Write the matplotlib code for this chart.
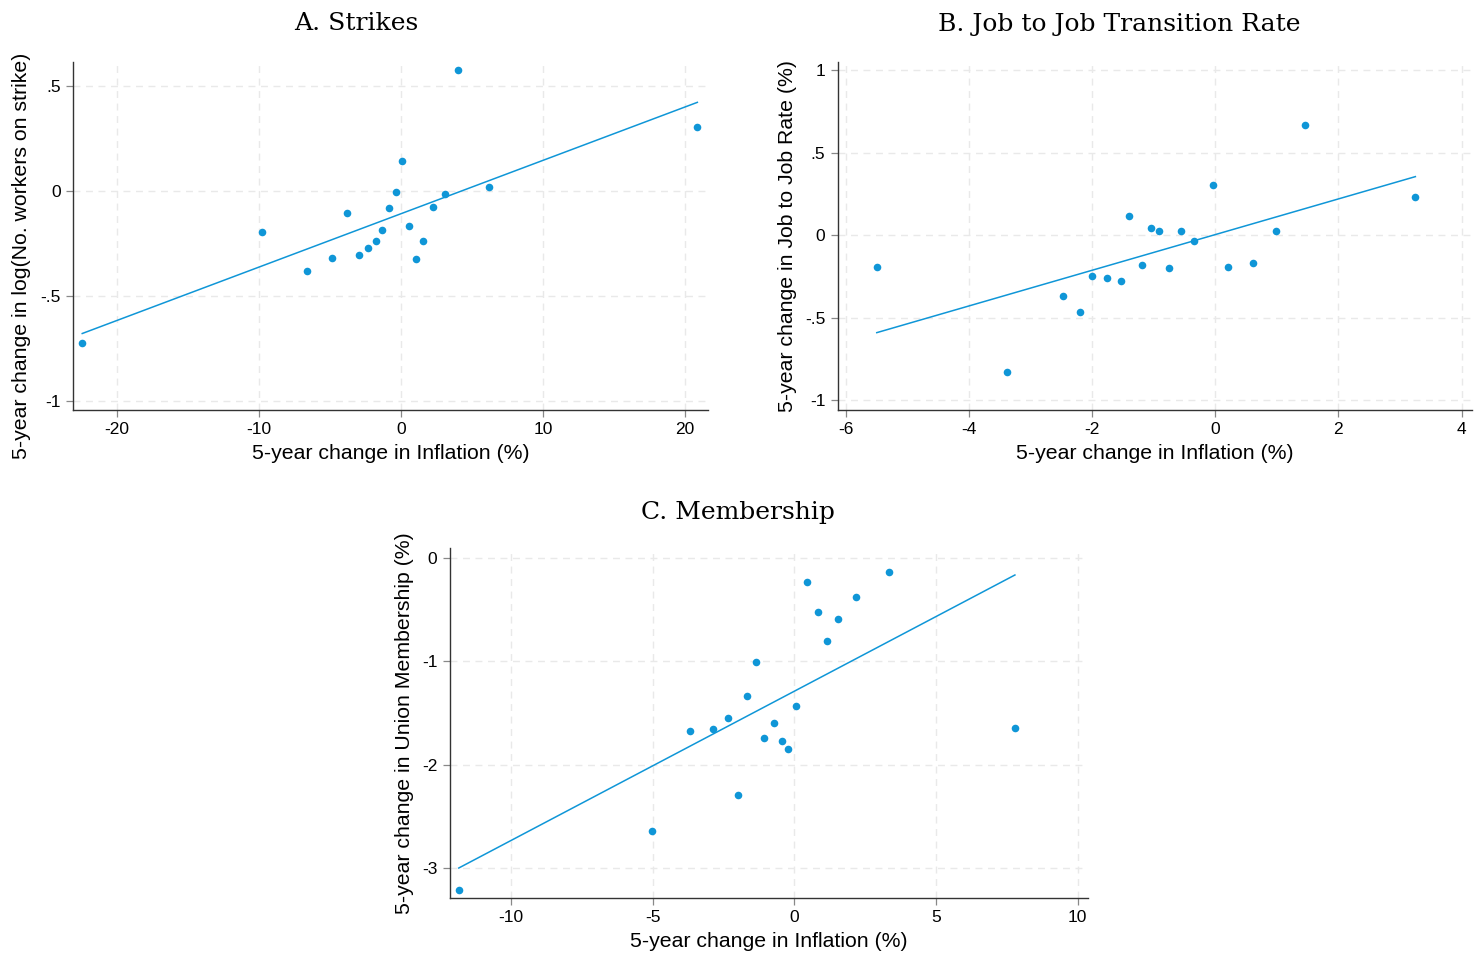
"""Three binned scatter panels: strikes, job-to-job moves and union membership vs inflation."""

import matplotlib

matplotlib.use("Agg")
import matplotlib.pyplot as plt
import numpy as np

BLUE = "#0f96d7"

# A. Strikes
strikes_x = [-22.43, -9.75, -6.58, -4.82, -3.79, -2.96, -2.30, -1.76, -1.32, -0.83,
             -0.37, 0.07, 0.56, 1.04, 1.57, 2.24, 3.12, 4.02, 6.21, 20.87]
strikes_y = [-0.724, -0.197, -0.384, -0.319, -0.106, -0.305, -0.275, -0.240, -0.186, -0.084,
             -0.008, 0.143, -0.168, -0.325, -0.240, -0.080, -0.018, 0.576, 0.018, 0.305]
strikes_fit_x = [-22.43, 20.87]
strikes_fit_y = [-0.68, 0.42]

# B. Job to job
j2j_x = [-5.50, -3.39, -2.48, -2.20, -2.00, -1.76, -1.54, -1.40, -1.19, -1.04,
         -0.92, -0.75, -0.56, -0.34, -0.04, 0.21, 0.62, 0.98, 1.46, 3.25]
j2j_y = [-0.191, -0.827, -0.371, -0.465, -0.245, -0.259, -0.280, 0.114, -0.179, 0.045,
         0.027, -0.199, 0.027, -0.038, 0.306, -0.191, -0.168, 0.023, 0.670, 0.233]
j2j_fit_x = [-5.50, 3.25]
j2j_fit_y = [-0.591, 0.355]

# C. Membership
union_x = [-11.84, -5.02, -3.69, -2.85, -2.33, -1.99, -1.67, -1.36, -1.06, -0.73,
           -0.44, -0.22, 0.06, 0.46, 0.83, 1.16, 1.55, 2.19, 3.34, 7.79]
union_y = [-3.21, -2.64, -1.68, -1.655, -1.55, -2.29, -1.34, -1.01, -1.745, -1.60,
           -1.77, -1.85, -1.43, -0.238, -0.529, -0.809, -0.596, -0.378, -0.141, -1.65]
union_fit_x = [-11.84, 7.79]
union_fit_y = [-3.00, -0.167]

xticks_a = [-20, -10, 0, 10, 20]
yticks_a = [-1, -0.5, 0, 0.5]
ylabels_a = ["-1", "-.5", "0", ".5"]
xticks_b = [-6, -4, -2, 0, 2, 4]
yticks_b = [-1, -0.5, 0, 0.5, 1]
ylabels_b = ["-1", "-.5", "0", ".5", "1"]
xticks_c = [-10, -5, 0, 5, 10]
yticks_c = [-3, -2, -1, 0]
ylabels_c = ["-3", "-2", "-1", "0"]

XLABEL = "5-year change in Inflation (%)"

plt.rcParams["font.family"] = ["Liberation Sans", "DejaVu Sans"]

W, H = 1484, 958
fig = plt.figure(figsize=(W / 100, H / 100), dpi=100)


def px_axes(left, top, right, bottom):
    return fig.add_axes([left / W, 1 - bottom / H, (right - left) / W, (bottom - top) / H])


def style(ax, x, y, fx, fy, xt, yt, yl, xlim, ylim, ylabel):
    ax.scatter(x, y, s=30, color=BLUE, linewidths=0, zorder=3)
    ax.plot(fx, fy, color=BLUE, lw=1.1, zorder=2)
    ax.set_xticks(xt)
    ax.set_xticklabels([str(v) for v in xt])
    ax.set_yticks(yt)
    ax.set_yticklabels(yl)
    ax.set_xlim(xlim)
    ax.set_ylim(ylim)
    ax.grid(True, color="#e9e9e9", lw=1.0, ls=(0, (5, 4)))
    ax.set_axisbelow(True)
    for side in ("top", "right"):
        ax.spines[side].set_visible(False)
    for side in ("left", "bottom"):
        ax.spines[side].set_color("#333333")
        ax.spines[side].set_linewidth(1.0)
    ax.tick_params(direction="out", length=5, width=0.9, color="#888888",
                   labelsize=12.5, pad=4)
    ax.set_xlabel(XLABEL, fontsize=15.3, labelpad=5)
    ax.set_ylabel(ylabel, fontsize=15.3, labelpad=6)


ax_a = px_axes(73, 62, 708, 410)
style(ax_a, strikes_x, strikes_y, strikes_fit_x, strikes_fit_y, xticks_a, yticks_a, ylabels_a,
      (-23.08, 21.62), (-1.044, 0.612), "5-year change in log(No. workers on strike)")
# the long title sits a little below the centre of the axis in the source
ax_a.yaxis.set_label_coords(-0.066, 0.443)

ax_b = px_axes(838, 62, 1472, 410)
style(ax_b, j2j_x, j2j_y, j2j_fit_x, j2j_fit_y, xticks_b, yticks_b, ylabels_b,
      (-6.13, 4.17), (-1.06, 1.05), "5-year change in Job to Job Rate (%)")

ax_c = px_axes(450, 548, 1088, 898)
style(ax_c, union_x, union_y, union_fit_x, union_fit_y, xticks_c, yticks_c, ylabels_c,
      (-12.15, 10.37), (-3.29, 0.094), "5-year change in Union Membership (%)")

title_kw = dict(ha="center", va="center", fontsize=18, family="DejaVu Serif")
fig.text(356 / W, 1 - 24 / H, "A. Strikes", **title_kw)
fig.text(1119 / W, 1 - 24 / H, "B. Job to Job Transition Rate", **title_kw)
fig.text(738 / W, 1 - 513 / H, "C. Membership", **title_kw)

fig.savefig("out.png", dpi=100, facecolor="white")
